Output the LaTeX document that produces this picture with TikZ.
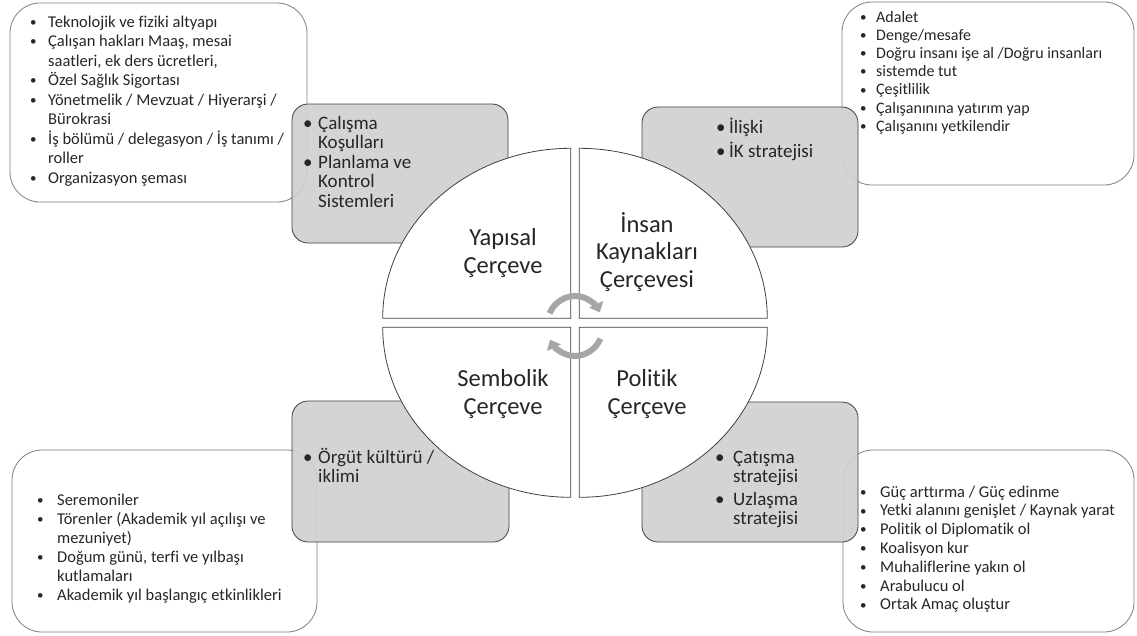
\documentclass[tikz,border=0pt]{standalone}
\usepackage{fontspec}
\setmainfont{Carlito}[Ligatures={NoCommon}]
\usepackage{xcolor}
\usetikzlibrary{arrows.meta}

\definecolor{boxgray}{HTML}{D0D0D0}
\definecolor{edgegray}{HTML}{7F7F7F}
\definecolor{darkedge}{HTML}{404040}
\definecolor{arrowgray}{HTML}{A6A6A6}
\definecolor{inkgray}{HTML}{262626}

\newcommand{\kbul}{\raisebox{0.8pt}{\fontsize{13}{13}\selectfont\textbullet}}

\tikzset{
  wbox/.style={draw=edgegray, fill=white, rounded corners=30pt, line width=0.8pt,
    inner sep=0pt, outer sep=0pt},
  gbox/.style={draw=darkedge, fill=boxgray, fill opacity=0.92, rounded corners=16pt,
    line width=0.8pt, inner sep=0pt, outer sep=0pt},
  quarter/.style={draw=darkedge, fill=white, line width=0.8pt},
  turn/.style={draw=arrowgray, line width=6pt, -{Triangle[width=15pt,length=9pt]}},
  listtxt/.style={text=inkgray, inner sep=0pt, anchor=base west},
  frametxt/.style={text=inkgray, align=center, font=\fontsize{24.5}{27.5}\selectfont}
}

\begin{document}
\begin{tikzpicture}[x=1pt, y=-1pt]
\useasboundingbox (0,0) rectangle (1137,635);

% outer boxes
\node[wbox, minimum width=297pt, minimum height=199pt] (yapisalDis) at (158.5,102.5) {};
\node[wbox, minimum width=292pt, minimum height=183pt] (insanDis) at (988,93.5) {};
\node[wbox, minimum width=305pt, minimum height=182pt] (sembolikDis) at (164.5,541) {};
\node[wbox, minimum width=291pt, minimum height=182pt] (politikDis) at (988.5,541) {};

% gray boxes
\node[gbox, minimum width=216pt, minimum height=139pt] (yapisalIc) at (400,173.5) {};
\node[gbox, minimum width=216pt, minimum height=140pt] (insanIc) at (750,177) {};
\node[gbox, minimum width=217pt, minimum height=141pt] (sembolikIc) at (400.5,471.5) {};
\node[gbox, minimum width=216pt, minimum height=140pt] (politikIc) at (750,472) {};

% four quarters
\draw[quarter] (570.7,318.3) -- ++(-188,0)
  arc[start angle=180, end angle=270, x radius=188, y radius=170] -- cycle;
\draw[quarter] (579.3,318.3) -- ++(0,-170)
  arc[start angle=270, end angle=360, x radius=188, y radius=170] -- cycle;
\draw[quarter] (579.3,327.3) -- ++(188,0)
  arc[start angle=0, end angle=90, x radius=188, y radius=170] -- cycle;
\draw[quarter] (570.7,327.3) -- ++(0,170)
  arc[start angle=90, end angle=180, x radius=188, y radius=170] -- cycle;

% turning arrows
\coordinate (donme) at (575,326);
\draw[turn] (donme) ++(205:28 and 30) arc[start angle=205, end angle=333, x radius=28, y radius=30];
\draw[turn] (donme) ++(25:28 and 30) arc[start angle=25, end angle=153, x radius=28, y radius=30];

% frame titles
\node[frametxt] (yapisal) at (503,253) {Yapısal\\Çerçeve};
\node[frametxt] (insan) at (647,252) {İnsan\\Kaynakları\\Çerçevesi};
\node[frametxt] (sembolik) at (503,394) {Sembolik\\Çerçeve};
\node[frametxt] (politik) at (647,394) {Politik\\Çerçeve};

% gray box lists
\node[listtxt, font=\fontsize{19}{19.5}\selectfont] (yapisalMadde) at (303,129) {%
\begin{tabular}[t]{@{}p{15pt}@{}l@{}}
\textbullet & Çalışma\\
 & Koşulları\\
\textbullet & Planlama ve\\
 & Kontrol\\
 & Sistemleri
\end{tabular}};
\node[listtxt, font=\fontsize{19}{19.5}\selectfont] (insanMadde) at (716,133) {%
\begin{tabular}[t]{@{}p{13pt}@{}l@{}}
\textbullet & İlişki\\[3.5pt]
\textbullet & İK stratejisi
\end{tabular}};
\node[listtxt, font=\fontsize{19}{19}\selectfont] (sembolikMadde) at (303,463) {%
\begin{tabular}[t]{@{}p{15pt}@{}l@{}}
\textbullet & Örgüt kültürü /\\
 & iklimi
\end{tabular}};
\node[listtxt, font=\fontsize{19}{19.5}\selectfont] (politikMadde) at (715,463) {%
\begin{tabular}[t]{@{}p{18pt}@{}l@{}}
\textbullet & Çatışma\\
 & stratejisi\\[3pt]
\textbullet & Uzlaşma\\
 & stratejisi
\end{tabular}};

% outer box lists
\node[listtxt, font=\fontsize{16.5}{19.5}\selectfont] (yapisalListe) at (30,27) {%
\begin{tabular}[t]{@{}p{18pt}@{}l@{}}
\kbul & Teknolojik ve fiziki altyapı\\
\kbul & Çalışan hakları Maaş, mesai\\
 & saatleri, ek ders ücretleri,\\
\kbul & Özel Sağlık Sigortası\\
\kbul & Yönetmelik / Mevzuat / Hiyerarşi /\\
 & Bürokrasi\\
\kbul & İş bölümü / delegasyon / İş tanımı /\\
 & roller\\
\kbul & Organizasyon şeması
\end{tabular}};
\node[listtxt, font=\fontsize{16}{18.2}\selectfont] (insanListe) at (860,22) {%
\begin{tabular}[t]{@{}p{16pt}@{}l@{}}
\kbul & Adalet\\
\kbul & Denge/mesafe\\
\kbul & Doğru insanı işe al /Doğru insanları\\
\kbul & sistemde tut\\
\kbul & Çeşitlilik\\
\kbul & Çalışanınına yatırım yap\\
\kbul & Çalışanını yetkilendir
\end{tabular}};
\node[listtxt, font=\fontsize{16.5}{19}\selectfont] (sembolikListe) at (37,505) {%
\begin{tabular}[t]{@{}p{20pt}@{}l@{}}
\kbul & Seremoniler\\
\kbul & Törenler (Akademik yıl açılışı ve\\
 & mezuniyet)\\
\kbul & Doğum günü, terfi ve yılbaşı\\
 & kutlamaları\\
\kbul & Akademik yıl başlangıç etkinlikleri
\end{tabular}};
\node[listtxt, font=\fontsize{16.5}{18.8}\selectfont] (politikListe) at (860,497) {%
\begin{tabular}[t]{@{}p{20pt}@{}l@{}}
\kbul & Güç arttırma / Güç edinme\\
\kbul & Yetki alanını genişlet / Kaynak yarat\\
\kbul & Politik ol Diplomatik ol\\
\kbul & Koalisyon kur\\
\kbul & Muhaliflerine yakın ol\\
\kbul & Arabulucu ol\\
\kbul & Ortak Amaç oluştur
\end{tabular}};
\end{tikzpicture}
\end{document}
